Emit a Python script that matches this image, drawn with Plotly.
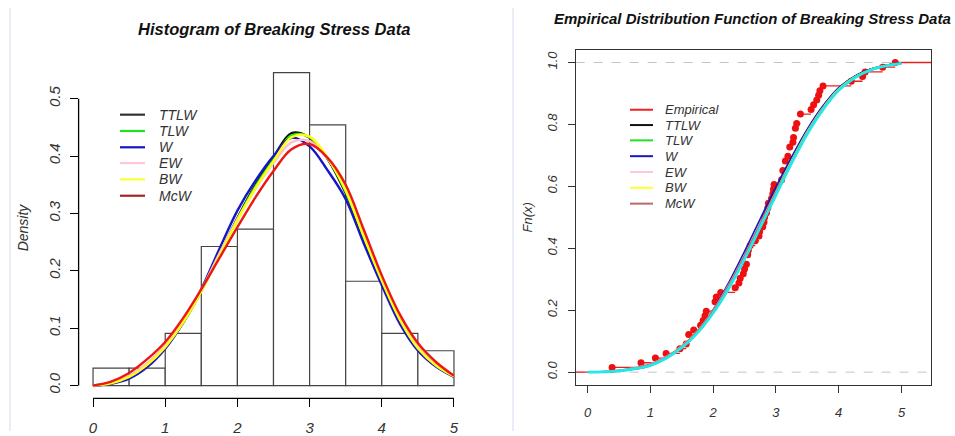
import plotly.graph_objects as go

W_PX, H_PX = 955, 436

# ---- data ----
# breaking stress (66 obs), read off the ECDF / histogram
stress = [0.39, 0.85, 1.08, 1.25, 1.47, 1.57, 1.61, 1.61, 1.69, 1.80, 1.84, 1.87, 1.89,
          2.03, 2.03, 2.05, 2.12, 2.35, 2.41, 2.43, 2.48, 2.50, 2.53, 2.55, 2.55, 2.56,
          2.59, 2.67, 2.73, 2.74, 2.79, 2.81, 2.82, 2.85, 2.87, 2.88, 2.93, 2.95, 2.96,
          2.97, 3.09, 3.11, 3.11, 3.15, 3.15, 3.19, 3.22, 3.22, 3.27, 3.28, 3.31, 3.31,
          3.33, 3.39, 3.39, 3.56, 3.60, 3.65, 3.68, 3.70, 3.75, 4.20, 4.38, 4.42, 4.70, 4.90]

bin_mids = [0.25, 0.75, 1.25, 1.75, 2.25, 2.75, 3.25, 3.75, 4.25, 4.75]
bin_density = [0.0303, 0.0303, 0.0909, 0.2424, 0.2727, 0.5455, 0.4545, 0.1818, 0.0909, 0.0606]

xgrid = [0, 0.25, 0.5, 0.75, 1.0, 1.25, 1.5, 1.75, 2.0, 2.25, 2.5, 2.75, 3.0,
         3.25, 3.5, 3.75, 4.0, 4.25, 4.5, 4.75, 5.0]

# fitted densities (left panel)
pdf_ttlw = [0.000, 0.004, 0.014, 0.035, 0.066, 0.110, 0.165, 0.228, 0.292, 0.350, 0.398, 0.440, 0.432,
            0.395, 0.335, 0.255, 0.180, 0.112, 0.063, 0.034, 0.016]
pdf_tlw = [0.000, 0.004, 0.015, 0.036, 0.067, 0.110, 0.165, 0.227, 0.290, 0.347, 0.394, 0.436, 0.433,
           0.396, 0.338, 0.258, 0.182, 0.114, 0.064, 0.035, 0.016]
pdf_w = [0.000, 0.003, 0.012, 0.032, 0.064, 0.110, 0.168, 0.238, 0.305, 0.357, 0.400, 0.432, 0.417,
         0.375, 0.325, 0.248, 0.175, 0.108, 0.061, 0.033, 0.015]
pdf_ew = [0.000, 0.005, 0.017, 0.039, 0.070, 0.113, 0.167, 0.230, 0.290, 0.343, 0.388, 0.424, 0.426,
          0.396, 0.342, 0.263, 0.186, 0.118, 0.068, 0.037, 0.017]
pdf_bw = [0.000, 0.004, 0.015, 0.036, 0.067, 0.110, 0.164, 0.226, 0.288, 0.344, 0.391, 0.433, 0.434,
          0.397, 0.340, 0.260, 0.183, 0.115, 0.065, 0.035, 0.016]
pdf_mcw = [0.000, 0.007, 0.022, 0.046, 0.076, 0.118, 0.168, 0.222, 0.276, 0.328, 0.374, 0.412, 0.421,
           0.397, 0.350, 0.272, 0.192, 0.124, 0.074, 0.041, 0.017]

# fitted cdfs (right panel)
cdf_ttlw = [0, 0.001, 0.004, 0.011, 0.023, 0.047, 0.082, 0.131, 0.197, 0.280, 0.375, 0.480, 0.585,
            0.688, 0.782, 0.858, 0.918, 0.955, 0.978, 0.991, 0.998]
cdf_tlw = [0, 0.001, 0.004, 0.011, 0.023, 0.047, 0.082, 0.131, 0.197, 0.279, 0.374, 0.479, 0.584,
           0.687, 0.781, 0.857, 0.917, 0.955, 0.978, 0.991, 0.998]
cdf_w = [0, 0.001, 0.004, 0.010, 0.021, 0.044, 0.080, 0.132, 0.202, 0.290, 0.390, 0.495, 0.598,
         0.695, 0.785, 0.860, 0.918, 0.955, 0.978, 0.991, 0.998]
cdf_ew = [0, 0.002, 0.006, 0.014, 0.027, 0.050, 0.085, 0.134, 0.200, 0.283, 0.378, 0.480, 0.582,
          0.682, 0.775, 0.852, 0.912, 0.952, 0.976, 0.990, 0.997]
cdf_bw = [0, 0.001, 0.005, 0.012, 0.024, 0.047, 0.082, 0.130, 0.195, 0.277, 0.372, 0.476, 0.580,
          0.683, 0.778, 0.855, 0.915, 0.953, 0.977, 0.990, 0.997]
cdf_mcw = [0, 0.002, 0.006, 0.014, 0.026, 0.049, 0.084, 0.133, 0.199, 0.282, 0.377, 0.479, 0.581,
           0.681, 0.775, 0.852, 0.912, 0.952, 0.976, 0.990, 0.997]
cdf_cyan = [0, 0.001, 0.004, 0.011, 0.022, 0.045, 0.079, 0.127, 0.191, 0.271, 0.365, 0.468, 0.572,
            0.675, 0.770, 0.848, 0.910, 0.950, 0.975, 0.989, 0.997]

names = ['TTLW', 'TLW', 'W', 'EW', 'BW', 'McW']
curve_cols = ['#111111', '#22e022', '#1616c8', '#ffc0cb', '#ffff10', '#ee1515']
leg_cols_l = ['#333333', '#22e022', '#1616c8', '#ffc8d4', '#ffff30', '#a52525']
leg_cols_r = ['#111111', '#22e022', '#1616c8', '#ffc8d4', '#ffff30', '#bb6a6a']

FONT = 'Liberation Sans, Arial, sans-serif'


def px(x):
    return x / W_PX


def py(y):
    return 1 - y / H_PX


fig = go.Figure()

# ---- left: histogram ----
fig.add_trace(go.Bar(x=bin_mids, y=bin_density, width=0.5, marker=dict(color='white', line=dict(color='#444', width=1.2)),
                     xaxis='x', yaxis='y', showlegend=False))
for nm, col, ys in zip(names, curve_cols, [pdf_ttlw, pdf_tlw, pdf_w, pdf_ew, pdf_bw, pdf_mcw]):
    fig.add_trace(go.Scatter(x=xgrid, y=ys, mode='lines', name=nm, line=dict(color=col, width=2.4, shape='spline'),
                             xaxis='x', yaxis='y', showlegend=False))

# ---- right: ECDF ----
knots = sorted(set(stress))
n = len(stress)
Fn = [sum(1 for s in stress if s <= k) / n for k in knots]
xr = [-0.19, 5.47]
seg_x, seg_y = [xr[0], knots[0], None], [0, 0, None]
for i, k in enumerate(knots):
    nxt = knots[i + 1] if i + 1 < len(knots) else xr[1]
    seg_x += [k, nxt, None]
    seg_y += [Fn[i], Fn[i], None]

for yy in [0, 1]:
    fig.add_trace(go.Scatter(x=xr, y=[yy, yy], mode='lines', line=dict(color='#c4c4c4', width=1, dash='dash'),
                             xaxis='x2', yaxis='y2', showlegend=False))
fig.add_trace(go.Scatter(x=seg_x, y=seg_y, mode='lines', line=dict(color='#e82020', width=1.3),
                         xaxis='x2', yaxis='y2', showlegend=False))
fig.add_trace(go.Scatter(x=knots, y=Fn, mode='markers', marker=dict(color='#ee1010', size=7),
                         xaxis='x2', yaxis='y2', showlegend=False))
for nm, col, ys in zip(names, curve_cols[:5] + ['#bb6a6a'], [cdf_ttlw, cdf_tlw, cdf_w, cdf_ew, cdf_bw, cdf_mcw]):
    fig.add_trace(go.Scatter(x=xgrid, y=ys, mode='lines', name=nm, line=dict(color=col, width=1.6, shape='spline'),
                             xaxis='x2', yaxis='y2', showlegend=False))
fig.add_trace(go.Scatter(x=xgrid, y=cdf_cyan, mode='lines', line=dict(color='#22e8e8', width=2.8, shape='spline'),
                         xaxis='x2', yaxis='y2', showlegend=False))

tickfont = dict(family=FONT, size=15, color='#333', style='italic')
tickfont2 = dict(family=FONT, size=13, color='#333', style='italic')
fig.update_layout(
    width=W_PX, height=H_PX, margin=dict(l=0, r=0, t=0, b=0),
    paper_bgcolor='white', plot_bgcolor='white',
    xaxis=dict(domain=[px(78.6), px(468.4)], range=[-0.2, 5.2], tickvals=[0, 1, 2, 3, 4, 5],
               ticks='outside', ticklen=8, tickcolor='black', tickwidth=1.2, showline=False, showgrid=False,
               zeroline=False, tickfont=tickfont, ticklabelstandoff=8),
    yaxis=dict(domain=[py(403), py(61)], range=[-0.0224, 0.567], tickvals=[0, 0.1, 0.2, 0.3, 0.4, 0.5],
               ticktext=['0.0', '0.1', '0.2', '0.3', '0.4', '0.5'], tickangle=-90,
               ticks='outside', ticklen=8, tickcolor='black', tickwidth=1.2, showline=False, showgrid=False,
               zeroline=False, tickfont=tickfont, ticklabelstandoff=4),
    xaxis2=dict(domain=[px(575.7), px(931)], range=xr, tickvals=[0, 1, 2, 3, 4, 5], anchor='y2',
                ticks='outside', ticklen=7, tickcolor='#333', showline=True, linecolor='#333', linewidth=1.2,
                mirror=True, showgrid=False, zeroline=False, tickfont=tickfont2, ticklabelstandoff=9),
    yaxis2=dict(domain=[py(389), py(50.7)], range=[-0.04, 1.04], tickvals=[0, 0.2, 0.4, 0.6, 0.8, 1.0],
                ticktext=['0.0', '0.2', '0.4', '0.6', '0.8', '1.0'], tickangle=-90, anchor='x2',
                ticks='outside', ticklen=7, tickcolor='#333', showline=True, linecolor='#333', linewidth=1.2,
                mirror=True, showgrid=False, zeroline=False, tickfont=tickfont2, ticklabelstandoff=5),
)

shapes = [
    # detached R-style axes on the histogram
    dict(type='line', xref='x', yref='y domain', x0=0, x1=5, y0=0, y1=0, line=dict(color='black', width=1.3)),
    dict(type='line', xref='x domain', yref='y', x0=0, x1=0, y0=0, y1=0.5, line=dict(color='black', width=1.3)),
    # screenshot edge lines
    dict(type='line', xref='paper', yref='paper', x0=px(10), x1=px(10), y0=0, y1=py(8), line=dict(color='#e8edf6', width=2)),
    dict(type='line', xref='paper', yref='paper', x0=px(513), x1=px(513), y0=0, y1=py(8), line=dict(color='#e8edf6', width=2)),
]
ann = [
    dict(text='<b><i>Histogram of Breaking Stress Data</i></b>', x=px(274), y=py(29), font=dict(family=FONT, size=16.5, color='#111')),
    dict(text='<b><i>Empirical Distribution Function of Breaking Stress Data</i></b>', x=px(752), y=py(19),
         font=dict(family=FONT, size=15, color='#111')),
    dict(text='<i>Density</i>', x=px(23), y=py(230), textangle=-90, font=dict(family=FONT, size=14, color='#333')),
    dict(text='<i>Fn(x)</i>', x=px(527), y=py(220), textangle=-90, font=dict(family=FONT, size=13, color='#333')),
]

# left legend
leg_y_l = [116, 132.5, 149, 165, 181.5, 198]
for nm, col, yy in zip(names, leg_cols_l, leg_y_l):
    shapes.append(dict(type='line', xref='paper', yref='paper', x0=px(120), x1=px(145), y0=py(yy), y1=py(yy),
                       line=dict(color=col, width=2.2)))
    ann.append(dict(text='<i>' + nm + '</i>', x=px(157), y=py(yy), xanchor='left',
                    font=dict(family=FONT, size=14, color='#333')))

# right legend
leg_names_r = ['Empirical'] + names
leg_cols_r2 = ['#ee2222'] + leg_cols_r
leg_y_r = [111, 126.5, 142, 158, 174, 190, 206]
for nm, col, yy in zip(leg_names_r, leg_cols_r2, leg_y_r):
    shapes.append(dict(type='line', xref='paper', yref='paper', x0=px(630), x1=px(653), y0=py(yy), y1=py(yy),
                       line=dict(color=col, width=2)))
    ann.append(dict(text='<i>' + nm + '</i>', x=px(663), y=py(yy), xanchor='left',
                    font=dict(family=FONT, size=13, color='#333')))

for a in ann:
    a.setdefault('xanchor', 'center')
    a.update(xref='paper', yref='paper', showarrow=False, yanchor='middle')
fig.update_layout(shapes=shapes, annotations=ann)

# page body has an 8px default margin; drop it so the figure sits at 0,0
fig.write_html('out.html', config={'displayModeBar': False},
               post_script="document.body.style.margin='0px';")
